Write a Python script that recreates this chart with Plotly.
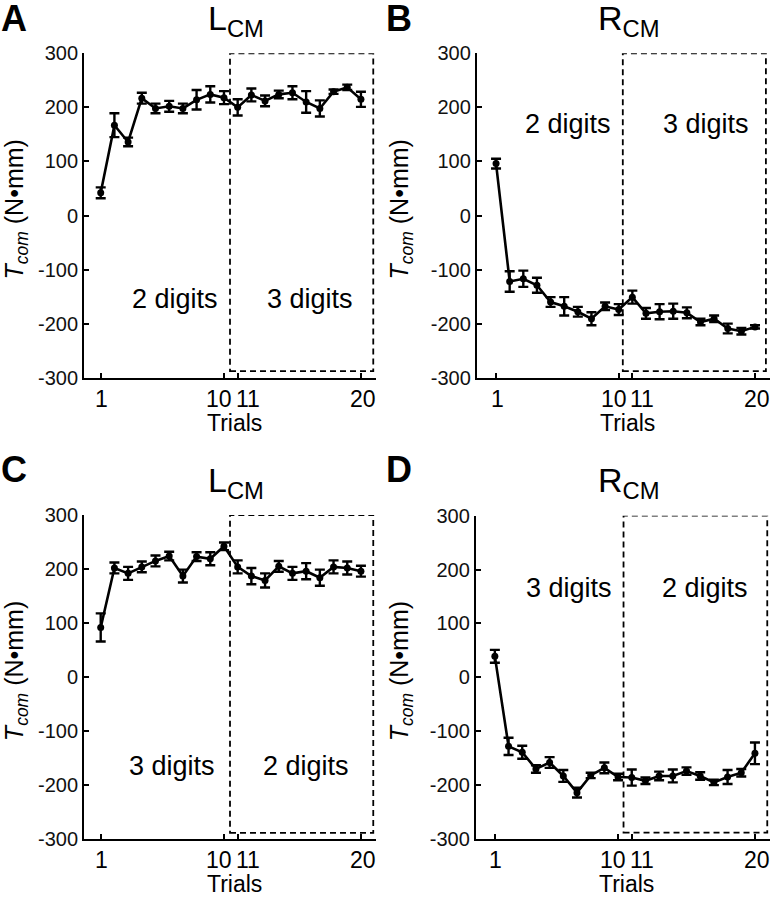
import plotly.graph_objects as go

# ---------------- data ----------------
trials = list(range(1, 21))
tick_vals = [1, 10, 11, 20]
tick_text = ["1", "10", "11", "20"]
y_ticks = [-300, -200, -100, 0, 100, 200, 300]

a_mean = [42, 167, 136, 217, 198, 202, 198, 214, 224, 218,
          200, 223, 212, 224, 227, 210, 198, 229, 237, 215]
a_err = [10, 22, 8, 10, 9, 10, 9, 18, 15, 12,
         15, 12, 10, 7, 12, 20, 15, 4, 5, 14]

b_mean = [96, -122, -117, -129, -160, -168, -178, -191, -168, -174,
          -151, -181, -178, -177, -180, -197, -191, -209, -214, -206]
b_err = [9, 19, 15, 14, 9, 17, 9, 12, 7, 10,
         12, 10, 14, 14, 10, 6, 6, 9, 6, 3]

c_mean = [92, 202, 192, 204, 215, 224, 187, 223, 219, 242,
          204, 187, 179, 205, 192, 196, 184, 204, 202, 196]
c_err = [26, 10, 12, 10, 10, 8, 12, 8, 12, 7,
         12, 15, 13, 10, 12, 15, 15, 12, 12, 10]

d_mean = [39, -128, -139, -170, -158, -183, -214, -182, -168, -185,
          -186, -192, -183, -183, -174, -183, -195, -185, -177, -141]
d_err = [12, 16, 12, 7, 10, 11, 9, 5, 10, 6,
         15, 6, 8, 12, 7, 7, 5, 13, 7, 20]

panel_letters = ["A", "B", "C", "D"]
panel_titles = ["L<sub>CM</sub>", "R<sub>CM</sub>", "L<sub>CM</sub>", "R<sub>CM</sub>"]
left_labels = ["2 digits", "2 digits", "3 digits", "3 digits"]
right_labels = ["3 digits", "3 digits", "2 digits", "2 digits"]
label_y = [-155, 169, -165, 166]
label_x = [[6.4, 16.25], [6.3, 16.4], [6.2, 16.0], [6.4, 16.35]]
box_x = [[10.44, 20.9], [10.3, 20.8], [10.44, 20.9], [10.4, 20.9]]
box_y = [-288, 300]
tick_shift = [1, -5, 10, 2]   # px nudges of the x tick labels

means = [a_mean, b_mean, c_mean, d_mean]
errs = [a_err, b_err, c_err, d_err]

# ---------------- layout geometry (pixels) ----------------
W, H = 775, 900
# (left, right, top, bottom) of plot area in px
boxes = [(84, 376, 53.3, 377.7), (476.7, 770, 53.3, 377.7),
         (84, 376, 515, 839.3), (475.7, 770, 515.7, 839)]
x_ranges = [[-0.22, 21.1], [-0.42, 21.1], [-0.22, 21.1], [-0.4, 21.1]]

FONT = "Liberation Sans, Arial, sans-serif"


def px(xp):
    return xp / W


def py(yp):
    return 1 - yp / H


fig = go.Figure()
annotations = []
shapes = []

for i in range(4):
    l, r, t, b = boxes[i]
    xa = "x" if i == 0 else f"x{i+1}"
    ya = "y" if i == 0 else f"y{i+1}"
    fig.add_trace(go.Scatter(
        x=trials, y=means[i], xaxis=xa, yaxis=ya, mode="lines+markers",
        line=dict(color="black", width=2.6),
        marker=dict(color="black", size=7),
        error_y=dict(type="data", array=errs[i], color="black", thickness=2.4, width=5),
        showlegend=False, cliponaxis=False,
    ))
    axis_common = dict(showline=True, linecolor="black", linewidth=1.8,
                       ticks="inside", tickcolor="black", tickwidth=1.6, ticklen=5,
                       showgrid=False, zeroline=False, mirror=False, automargin=False)
    xk = "xaxis" if i == 0 else f"xaxis{i+1}"
    yk = "yaxis" if i == 0 else f"yaxis{i+1}"
    fig.update_layout(**{
        xk: dict(domain=[px(l), px(r)], range=x_ranges[i], anchor=ya,
                 tickvals=tick_vals, showticklabels=False, **axis_common),
        yk: dict(domain=[py(b), py(t)], range=[-300, 300], anchor=xa,
                 tickvals=y_ticks, ticktext=[str(v) for v in y_ticks],
                 tickfont=dict(size=20, color="#111", family=FONT),
                 ticklabelstandoff=0, **axis_common),
    })
    # x tick labels
    for tv, tt, sh in zip(tick_vals, tick_text, tick_shift):
        annotations.append(dict(xref=xa, yref="paper", x=tv, y=py(b + 21), text=tt,
                                showarrow=False, xanchor="center", yanchor="middle",
                                xshift=sh, font=dict(size=23, color="black", family=FONT)))
    # dashed box
    shapes.append(dict(type="rect", xref=xa, yref=ya,
                       x0=box_x[i][0], x1=box_x[i][1], y0=box_y[0], y1=box_y[1],
                       line=dict(color="black", width=1.8, dash="6px,4px"),
                       fillcolor="rgba(0,0,0,0)"))
    # condition labels
    for txt, xv in zip([left_labels[i], right_labels[i]], label_x[i]):
        annotations.append(dict(xref=xa, yref=ya, x=xv, y=label_y[i], text=txt,
                                showarrow=False, xanchor="center", yanchor="middle",
                                font=dict(size=27, color="black", family=FONT)))
    # panel letter
    ox = 0 if i % 2 == 0 else 385
    oy = 0 if i < 2 else 450
    annotations.append(dict(xref="paper", yref="paper", x=px(ox), y=py(oy + 19),
                            text=f"<b>{panel_letters[i]}</b>", showarrow=False,
                            xanchor="left", yanchor="middle", borderpad=0,
                            font=dict(size=36, color="black", family=FONT)))
    # title
    annotations.append(dict(xref="paper", yref="paper", x=px((l + r) / 2 + 6), y=py(t - 33),
                            text=panel_titles[i], showarrow=False,
                            xanchor="center", yanchor="middle",
                            font=dict(size=34, color="black", family=FONT)))
    # y title
    annotations.append(dict(xref="paper", yref="paper", x=px(ox + 16), y=py((t + b) / 2 - 6),
                            text="<i>T</i><sub><i>com</i></sub> (N•mm)", showarrow=False,
                            textangle=-90, xanchor="center", yanchor="middle",
                            font=dict(size=25, color="black", family=FONT)))
    # x title
    annotations.append(dict(xref="paper", yref="paper", x=px((l + r) / 2 + 4), y=py(b + 45),
                            text="Trials", showarrow=False,
                            xanchor="center", yanchor="middle",
                            font=dict(size=23, color="black", family=FONT)))

fig.update_layout(template="none", width=W, height=H,
                  margin=dict(l=0, r=0, t=0, b=0, autoexpand=False),
                  paper_bgcolor="white", plot_bgcolor="white",
                  annotations=annotations, shapes=shapes,
                  font=dict(family=FONT, color="black"))

fig.write_html("out.html", config={"displayModeBar": False},
               post_script="document.body.style.margin='0';document.body.style.overflow='hidden';")
